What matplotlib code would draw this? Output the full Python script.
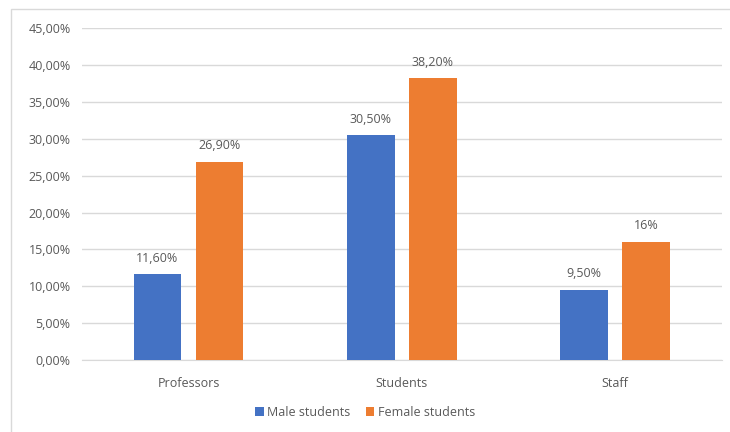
import matplotlib
matplotlib.use('Agg')

import matplotlib.pyplot as plt
import numpy as np
from matplotlib.patches import Rectangle

# Данные
categories = ['Professors', 'Students', 'Staff']
male = [11.6, 30.5, 9.5]
female = [26.9, 38.2, 16.0]
male_labels = ['11,60%', '30,50%', '9,50%']
female_labels = ['26,90%', '38,20%', '16%']
yticks = [0, 5, 10, 15, 20, 25, 30, 35, 40, 45]

blue = '#4472C4'
orange = '#ED7D31'
text_col = '#595959'

plt.rcParams['font.family'] = ['Open Sans', 'DejaVu Sans']

fig = plt.figure(figsize=(7.3, 4.32), dpi=100)
ax = fig.add_axes([0.112, 0.1667, 0.877, 0.768])

# Рамка вокруг диаграммы
fig.patches.append(Rectangle((0.015, -0.05), 1.2, 1.029, transform=fig.transFigure,
                             fill=False, edgecolor='#D9D9D9', linewidth=1))

x = np.arange(len(categories))
w = 0.224
off = 0.145
b1 = ax.bar(x - off, male, w, color=blue, label='Male students', zorder=3)
b2 = ax.bar(x + off, female, w, color=orange, label='Female students', zorder=3)

for bars, labels in [(b1, male_labels), (b2, female_labels)]:
    for b, lab in zip(bars, labels):
        ax.text(b.get_x() + b.get_width() / 2, b.get_height() + 1.3, lab,
                ha='center', va='bottom', fontsize=9, color=text_col)

ax.set_xlim(-0.5, 2.5)
ax.set_ylim(0, 45)
ax.set_yticks(yticks)
ax.set_yticklabels([f'{v},00%' for v in yticks], fontsize=9, color=text_col)
ax.set_xticks(x)
ax.set_xticklabels(categories, fontsize=9, color=text_col)
ax.tick_params(length=0, pad=12)
ax.tick_params(axis='y', pad=8)

ax.grid(axis='y', color='#D9D9D9', linewidth=1, zorder=0)
for s in ['top', 'right', 'left']:
    ax.spines[s].set_visible(False)
ax.spines['bottom'].set_color('#D9D9D9')

ax.legend(loc='center', bbox_to_anchor=(0.5, 0.045),
          bbox_transform=fig.transFigure, ncol=2, frameon=False, fontsize=9,
          handlelength=0.7, handleheight=0.7, handletextpad=0.3, columnspacing=1.2,
          labelcolor=text_col)

plt.savefig('out.png', dpi=100)
